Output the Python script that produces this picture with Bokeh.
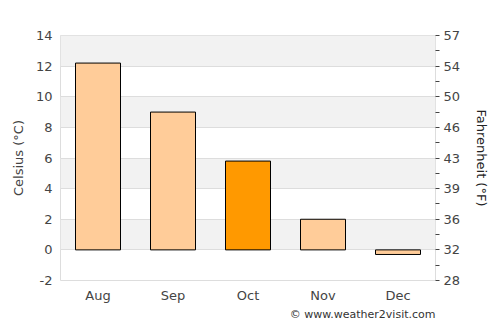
from bokeh.plotting import figure
from bokeh.models import Range1d, LinearAxis, FixedTicker, Title, ColumnDataSource
from bokeh.embed import file_html
from bokeh.resources import INLINE

months = ["Aug", "Sep", "Oct", "Nov", "Dec"]
celsius = [12.2, 9.0, 5.8, 2.0, -0.3]
colors = ["#ffcc99", "#ffcc99", "#ff9900", "#ffcc99", "#ffcc99"]
c_ticks = [-2, 0, 2, 4, 6, 8, 10, 12, 14]
f_labels = ["28", "32", "36", "39", "43", "46", "50", "54", "57"]
f_minor = [-1, 1, 3, 5, 7, 9, 11, 13]

FONT = "DejaVu Sans"
TXT = "#444444"

src = ColumnDataSource(dict(m=months, c=celsius, col=colors))

p = figure(frame_width=375, frame_height=245, x_range=months, y_range=Range1d(-2, 14),
           output_backend="svg", toolbar_location=None,
           min_border_left=60, min_border_right=65, min_border_top=35, min_border_bottom=45)
p.vbar(x="m", top="c", bottom=0, width=0.6, source=src, fill_color="col",
       line_color="black", line_width=1)

p.outline_line_color="#dddddd"
p.background_fill_color="white"
p.border_fill_color="white"
p.xgrid.grid_line_color=None
p.ygrid.ticker = FixedTicker(ticks=c_ticks)
p.ygrid.grid_line_color="#dddddd"
p.ygrid.band_fill_color="#f2f2f2"
p.ygrid.band_fill_alpha=1.0

ya = p.yaxis[0]
ya.ticker = FixedTicker(ticks=c_ticks)
ya.major_label_overrides = {t: str(t) for t in c_ticks}
ya.axis_line_color=None
ya.major_tick_line_color=None
ya.minor_tick_line_color=None
ya.major_tick_out=0
ya.major_tick_in=0
ya.major_label_standoff=8
ya.major_label_text_font=FONT
ya.major_label_text_font_size="13px"
ya.major_label_text_color=TXT
ya.axis_label="Celsius (°C)"
ya.axis_label_text_font=FONT
ya.axis_label_text_font_size="13px"
ya.axis_label_text_font_style="normal"
ya.axis_label_text_color=TXT
ya.axis_label_standoff=7

p.extra_y_ranges = {"f": Range1d(-2, 14)}
ra = LinearAxis(y_range_name="f")
ra.ticker = FixedTicker(ticks=c_ticks, minor_ticks=f_minor)
ra.major_label_overrides = {t: l for t, l in zip(c_ticks, f_labels)}
ra.axis_line_color=None
ra.major_tick_line_color=TXT
ra.minor_tick_line_color=TXT
ra.major_tick_in=0
ra.major_tick_out=4
ra.minor_tick_in=0
ra.minor_tick_out=4
ra.major_label_standoff=4
ra.major_label_text_font=FONT
ra.major_label_text_font_size="13px"
ra.major_label_text_color=TXT
ra.axis_label="Fahrenheit (°F)"
ra.axis_label_orientation="vertical"
ra.axis_label_text_font=FONT
ra.axis_label_text_font_size="13px"
ra.axis_label_text_font_style="normal"
ra.axis_label_text_color="#222222"
ra.axis_label_standoff=11
p.add_layout(ra, "right")

xa = p.xaxis[0]
xa.axis_line_color=None
xa.major_tick_line_color=None
xa.minor_tick_line_color=None
xa.major_tick_out=0
xa.major_tick_in=0
xa.major_label_standoff=7
xa.major_label_text_font=FONT
xa.major_label_text_font_size="13px"
xa.major_label_text_color=TXT

t = Title(text="© www.weather2visit.com", align="right", text_font=FONT,
          text_font_size="11px", text_font_style="normal", text_color="#333333",
          standoff=0, offset=0)
p.add_layout(t, "below")

open("out.html", "w").write(file_html(p, INLINE))
